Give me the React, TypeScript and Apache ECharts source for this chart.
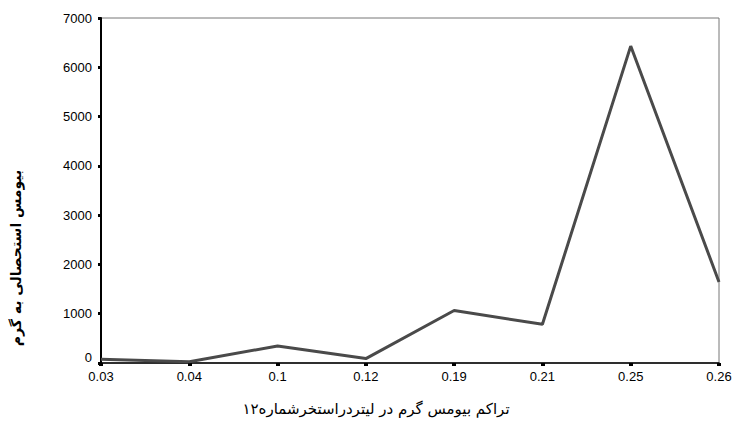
import React, { useEffect, useRef } from "react";
import * as echarts from "echarts";

const categories = ["0.03", "0.04", "0.1", "0.12", "0.19", "0.21", "0.25", "0.26"];
const values = [75, 25, 345, 90, 1065, 785, 6430, 1645];
const yTicks = [0, 1000, 2000, 3000, 4000, 5000, 6000, 7000];
const xTitle = "تراکم بیومس گرم در لیتردراستخرشماره۱۲";
const yTitle = "بیومس استحصالی به گرم";

const FONT = "'Liberation Sans', Arial, sans-serif";
const TFONT = "'DejaVu Sans', sans-serif";

export default function App() {
  const ref = useRef<HTMLDivElement>(null);
  useEffect(() => {
    if (!ref.current) return;
    const chart = echarts.init(ref.current, null, { renderer: "svg" });
    chart.setOption({
      animation: false,
      backgroundColor: "#ffffff",
      grid: {
        left: 101,
        right: 17,
        top: 18,
        bottom: 58,
        show: true,
        borderColor: "#777777",
        borderWidth: 1,
        containLabel: false,
      },
      xAxis: {
        type: "category",
        data: categories,
        boundaryGap: false,
        axisLine: { show: true, lineStyle: { color: "#000", width: 1.5 } },
        axisTick: { show: true, length: 3, alignWithLabel: true, lineStyle: { color: "#000", width: 4 } },
        axisLabel: { color: "#000", fontSize: 13, fontFamily: FONT, margin: 7 },
        splitLine: { show: false },
      },
      yAxis: {
        type: "value",
        min: yTicks[0],
        max: yTicks[yTicks.length - 1],
        interval: 1000,
        axisLine: { show: true, lineStyle: { color: "#000", width: 2 } },
        axisTick: { show: true, length: 3, lineStyle: { color: "#000", width: 3 } },
        axisLabel: {
          color: "#000",
          fontSize: 13,
          fontFamily: FONT,
          margin: 9,
          formatter: (v: number) => (v === 0 ? "{z|0}" : String(v)),
          rich: { z: { color: "#000", fontSize: 13, fontFamily: FONT, padding: [0, 0, 12, 0] } },
        },
        splitLine: { show: false },
      },
      series: [
        {
          type: "line",
          data: values,
          symbol: "none",
          lineStyle: { color: "#4a4a4a", width: 3 },
        },
      ],
      graphic: [
        {
          type: "text",
          x: 376,
          y: 409,
          style: {
            text: xTitle,
            fill: "#000",
            font: `15px ${TFONT}`,
            align: "center",
            verticalAlign: "middle",
          },
        },
        {
          type: "text",
          x: 16,
          y: 258,
          rotation: Math.PI / 2,
          style: {
            text: yTitle,
            fill: "#000",
            font: `bold 14px ${TFONT}`,
            align: "center",
            verticalAlign: "middle",
          },
        },
      ],
    });
    return () => chart.dispose();
  }, []);
  return (
    <div
      ref={ref}
      style={{ position: "fixed", left: 0, top: 0, width: 736, height: 421 }}
    />
  );
}
